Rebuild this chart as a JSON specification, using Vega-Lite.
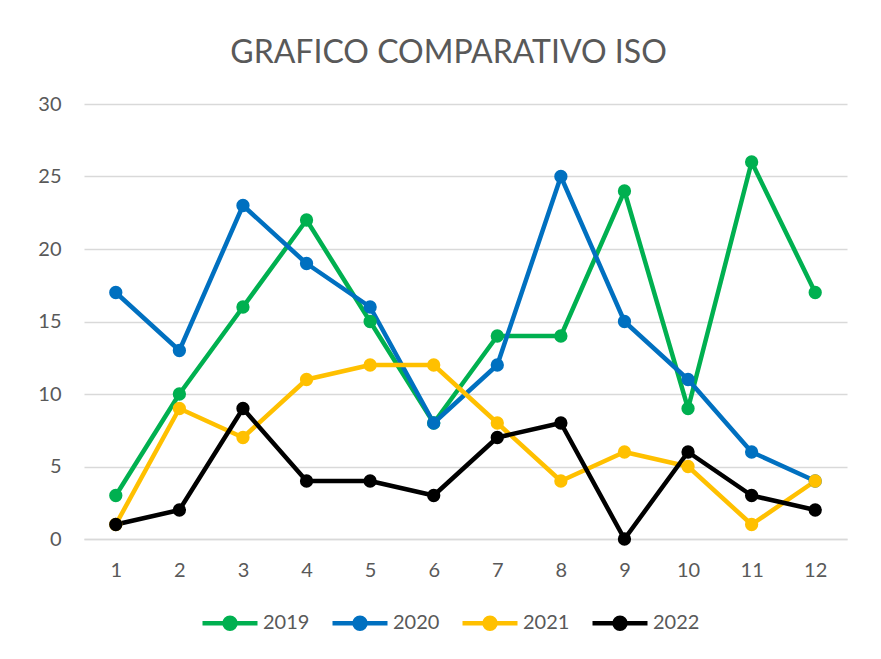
{
  "$schema": "https://vega.github.io/schema/vega-lite/v6.json",
  "width": 763,
  "height": 435,
  "autosize": {"type": "none"},
  "padding": {"left": 84, "top": 104, "right": 34, "bottom": 120},
  "background": "white",
  "title": {
    "text": "GRAFICO COMPARATIVO ISO",
    "font": "Lato",
    "fontSize": 32,
    "fontWeight": "normal",
    "color": "#595959",
    "anchor": "middle",
    "frame": "group",
    "dx": -17,
    "offset": 24
  },
  "data": {
    "values": [
      {"mes": "1", "anio": "2019", "valor": 3}, {"mes": "2", "anio": "2019", "valor": 10}, {"mes": "3", "anio": "2019", "valor": 16}, {"mes": "4", "anio": "2019", "valor": 22}, {"mes": "5", "anio": "2019", "valor": 15}, {"mes": "6", "anio": "2019", "valor": 8}, {"mes": "7", "anio": "2019", "valor": 14}, {"mes": "8", "anio": "2019", "valor": 14}, {"mes": "9", "anio": "2019", "valor": 24}, {"mes": "10", "anio": "2019", "valor": 9}, {"mes": "11", "anio": "2019", "valor": 26}, {"mes": "12", "anio": "2019", "valor": 17},
      {"mes": "1", "anio": "2020", "valor": 17}, {"mes": "2", "anio": "2020", "valor": 13}, {"mes": "3", "anio": "2020", "valor": 23}, {"mes": "4", "anio": "2020", "valor": 19}, {"mes": "5", "anio": "2020", "valor": 16}, {"mes": "6", "anio": "2020", "valor": 8}, {"mes": "7", "anio": "2020", "valor": 12}, {"mes": "8", "anio": "2020", "valor": 25}, {"mes": "9", "anio": "2020", "valor": 15}, {"mes": "10", "anio": "2020", "valor": 11}, {"mes": "11", "anio": "2020", "valor": 6}, {"mes": "12", "anio": "2020", "valor": 4},
      {"mes": "1", "anio": "2021", "valor": 1}, {"mes": "2", "anio": "2021", "valor": 9}, {"mes": "3", "anio": "2021", "valor": 7}, {"mes": "4", "anio": "2021", "valor": 11}, {"mes": "5", "anio": "2021", "valor": 12}, {"mes": "6", "anio": "2021", "valor": 12}, {"mes": "7", "anio": "2021", "valor": 8}, {"mes": "8", "anio": "2021", "valor": 4}, {"mes": "9", "anio": "2021", "valor": 6}, {"mes": "10", "anio": "2021", "valor": 5}, {"mes": "11", "anio": "2021", "valor": 1}, {"mes": "12", "anio": "2021", "valor": 4},
      {"mes": "1", "anio": "2022", "valor": 1}, {"mes": "2", "anio": "2022", "valor": 2}, {"mes": "3", "anio": "2022", "valor": 9}, {"mes": "4", "anio": "2022", "valor": 4}, {"mes": "5", "anio": "2022", "valor": 4}, {"mes": "6", "anio": "2022", "valor": 3}, {"mes": "7", "anio": "2022", "valor": 7}, {"mes": "8", "anio": "2022", "valor": 8}, {"mes": "9", "anio": "2022", "valor": 0}, {"mes": "10", "anio": "2022", "valor": 6}, {"mes": "11", "anio": "2022", "valor": 3}, {"mes": "12", "anio": "2022", "valor": 2}
    ]
  },
  "encoding": {
    "x": {
      "field": "mes",
      "type": "ordinal",
      "sort": ["1","2","3","4","5","6","7","8","9","10","11","12"],
      "title": null,
      "axis": {
        "labelAngle": 0,
        "ticks": false,
        "grid": false,
        "domainColor": "#d9d9d9",
        "domainWidth": 1.5,
        "labelPadding": 21,
        "labelFont": "Lato",
        "labelFontSize": 20,
        "labelColor": "#595959"
      }
    },
    "y": {
      "field": "valor",
      "type": "quantitative",
      "title": null,
      "scale": {"domain": [0, 30], "nice": false},
      "axis": {
        "values": [0, 5, 10, 15, 20, 25, 30],
        "ticks": false,
        "domain": false,
        "gridColor": "#d9d9d9",
        "gridWidth": 1.5,
        "labelPadding": 23,
        "labelFont": "Lato",
        "labelFontSize": 20,
        "labelColor": "#595959"
      }
    },
    "color": {
      "field": "anio",
      "type": "nominal",
      "title": null,
      "scale": {
        "domain": ["2019", "2020", "2021", "2022"],
        "range": ["#00B050", "#0070C0", "#FFC000", "#000000"]
      },
      "legend": {
        "orient": "none",
        "direction": "horizontal",
        "legendX": 116,
        "legendY": 489,
        "padding": 0,
        "symbolType": "M-1,0L1,0M-0.2,0A0.2,0.2,0,1,1,0.2,0A0.2,0.2,0,1,1,-0.2,0Z",
        "symbolSize": 3025,
        "symbolStrokeWidth": 4.5,
        "symbolOpacity": 1,
        "labelOffset": 3,
        "columnPadding": 13,
        "labelFont": "Lato",
        "labelFontSize": 20,
        "labelColor": "#595959",
        "encode": {
          "symbols": {
            "update": {
              "fill": {"scale": "color", "field": "value"},
              "stroke": {"scale": "color", "field": "value"}
            }
          }
        }
      }
    }
  },
  "layer": [
    {"mark": {"type": "line", "strokeWidth": 4.5, "strokeJoin": "round"}, "encoding": {}},
    {"mark": {"type": "point", "filled": true, "opacity": 1, "size": 177, "shape": "circle"}, "encoding": {}}
  ],
  "config": {"view": {"stroke": null}}
}
